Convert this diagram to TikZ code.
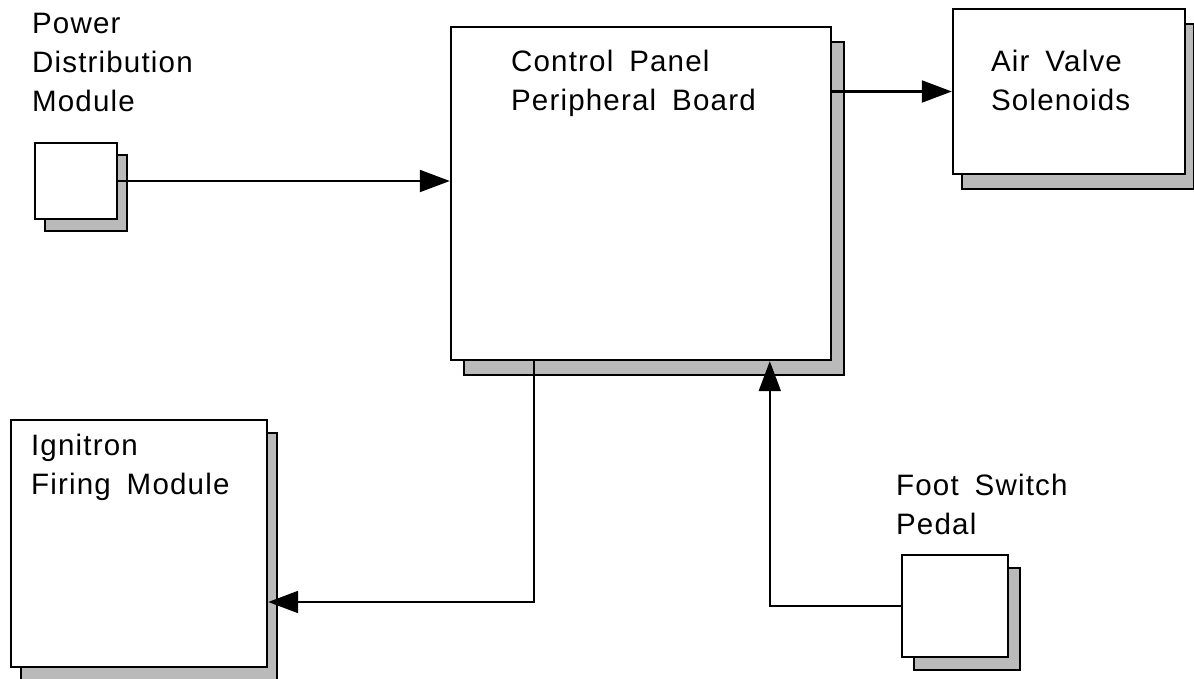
\documentclass[tikz,border=0pt]{standalone}
\usepackage{fontspec}
\setmainfont{Liberation Sans}[LetterSpace=4, WordSpace=1.7]
\usetikzlibrary{arrows.meta,shadows}

\tikzset{
  module/.style={draw, fill=white, line width=1.7pt, inner sep=0pt},
  boxshadow/.style 2 args={general shadow={shadow xshift=#1, shadow yshift=#2,
      fill=black!27, draw=black, line width=1.7pt}},
  wire/.style={line width=1.5pt},
  feed/.style={wire, -{Triangle[length=0.75cm, width=0.55cm]}},
  caption/.style={anchor=base west, align=left, inner sep=0pt,
      font=\fontsize{21}{27.7}\selectfont}
}

\begin{document}
\begin{tikzpicture}
      \useasboundingbox (0,0) rectangle (29.85,16.975);

      % modules
      \node[module, boxshadow={0.25cm}{-0.3cm}, minimum width=2.05cm, minimum height=1.9cm] (pdm) at (1.9,12.45) {};
      \node[module, boxshadow={0.33cm}{-0.38cm}, minimum width=9.5cm, minimum height=8.325cm] (cpb) at (16.025,12.1375) {};
      \node[module, boxshadow={0.23cm}{-0.38cm}, minimum width=5.8cm, minimum height=4.125cm] (avs) at (26.725,14.6875) {};
      \node[module, boxshadow={0.25cm}{-0.33cm}, minimum width=6.4cm, minimum height=6.175cm] (ifm) at (3.475,3.3875) {};
      \node[module, boxshadow={0.3cm}{-0.33cm}, minimum width=2.65cm, minimum height=2.55cm] (fsp) at (23.875,1.825) {};

      % labels (anchored at the last line)
      \node[caption] (pdmtext) at ([xshift=-0.05cm, yshift=0.75cm]pdm.north west) {Power\\Distribution\\Module};
      \node[caption] (cpbtext) at ([xshift=1.525cm, yshift=-2.125cm]cpb.north west) {Control Panel\\Peripheral Board};
      \node[caption] (avstext) at ([xshift=0.975cm, yshift=-2.575cm]avs.north west) {Air Valve\\Solenoids};
      \node[caption] (ifmtext) at ([xshift=0.525cm, yshift=-1.9cm]ifm.north west) {Ignitron\\Firing Module};
      \node[caption] (fsptext) at ([xshift=-0.125cm, yshift=0.475cm]fsp.north west) {Foot Switch\\Pedal};

      \coordinate (ifmin) at ([yshift=-1.4625cm]ifm.east);

      % connections
      \draw[feed] (pdm.east) -- (pdm.east -| cpb.west);
      \draw[feed] (cpb.east |- avs.west) -- (avs.west);
      \draw[feed] ([xshift=-2.68cm]cpb.south) |- (ifmin);
      \draw[feed] (fsp.west) -| ([xshift=3.22cm]cpb.south);
\end{tikzpicture}
\end{document}
